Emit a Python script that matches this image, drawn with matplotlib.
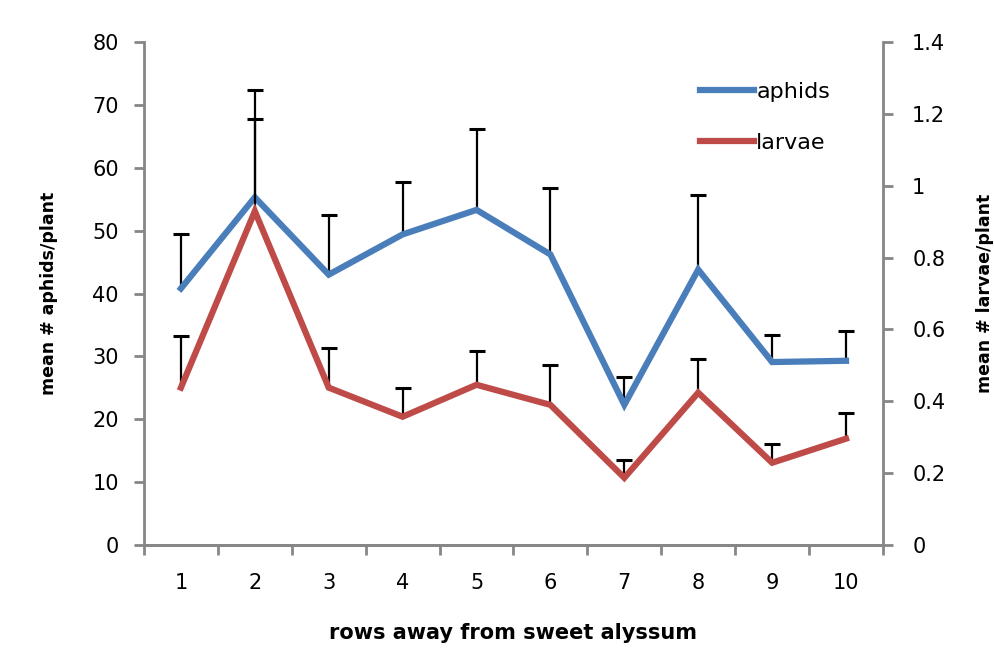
import numpy as np
import matplotlib.pyplot as plt
from matplotlib.ticker import MultipleLocator, FixedLocator, FuncFormatter

rows = [1, 2, 3, 4, 5, 6, 7, 8, 9, 10]
aphids = [40.8, 55.3, 43.0, 49.4, 53.3, 46.2, 22.3, 43.8, 29.1, 29.3]
aphids_err = [8.7, 17.0, 9.5, 8.4, 12.8, 10.6, 4.5, 11.8, 4.3, 4.8]
larvae = [0.438, 0.929, 0.438, 0.357, 0.446, 0.390, 0.187, 0.424, 0.229, 0.296]
larvae_err = [0.145, 0.258, 0.111, 0.081, 0.095, 0.112, 0.050, 0.095, 0.053, 0.072]

plt.rcParams['font.family'] = ['DejaVu Sans']
blue = '#4A7EBB'
red = '#BE4B48'
grey = '#868686'

fig = plt.figure(figsize=(9.95, 6.5), dpi=100)
ax = fig.add_axes([0.1447, 0.1615, 0.7427, 0.7739])
ax2 = ax.twinx()

x = np.arange(len(rows))

# upper-only error bars: stem + cap
a_top = np.array(aphids) + np.array(aphids_err)
ax.vlines(x, aphids, a_top, colors='black', lw=1.6, zorder=2)
ax.plot(x, a_top, ls='none', marker='_', ms=11, mew=2.2, color='black', zorder=2)
ax.plot(x, aphids, color=blue, lw=4.5, solid_joinstyle='miter', zorder=3, label='aphids')

l_top = np.array(larvae) + np.array(larvae_err)
ax2.vlines(x, larvae, l_top, colors='black', lw=1.6, zorder=2)
ax2.plot(x, l_top, ls='none', marker='_', ms=11, mew=2.2, color='black', zorder=2)
ax2.plot(x, larvae, color=red, lw=4.5, solid_joinstyle='miter', zorder=3, label='larvae')

ax.set_xlim(-0.5, len(rows) - 0.5)
ax.set_ylim(0, 80)
ax2.set_ylim(0, 1.4)
ax.yaxis.set_major_locator(MultipleLocator(10))
ax2.yaxis.set_major_locator(FixedLocator(np.arange(0, 1.41, 0.2)))
ax2.yaxis.set_major_formatter(FuncFormatter(lambda v, p: f'{v:g}' if abs(v) > 1e-9 else '0'))

ax.set_xticks(x)
ax.set_xticklabels([str(r) for r in rows])
ax.xaxis.set_minor_locator(FixedLocator(np.arange(-0.5, len(rows), 1.0)))
ax.tick_params(axis='x', which='major', length=0, pad=20, labelsize=15)
ax.tick_params(axis='x', which='minor', length=7, width=2, color=grey, direction='out')
ax.tick_params(axis='y', length=7, width=2, color=grey, labelsize=15, pad=11)
ax2.tick_params(axis='y', length=7, width=2, color=grey, labelsize=15, pad=14)

for a in (ax, ax2):
    a.spines['top'].set_visible(False)
    for s in ('left', 'right', 'bottom'):
        a.spines[s].set_color(grey)
        a.spines[s].set_linewidth(2)
ax.spines['right'].set_visible(False)
ax2.spines['left'].set_visible(False)

ax.set_xlabel('rows away from sweet alyssum', fontsize=15, fontweight='bold', labelpad=22)
ax.set_ylabel('mean # aphids/plant', fontsize=12.5, fontweight='bold', labelpad=25)
ax2.set_ylabel('mean # larvae/plant', fontsize=12.5, fontweight='bold', labelpad=22)

h1, l1 = ax.get_legend_handles_labels()
h2, l2 = ax2.get_legend_handles_labels()
fig.legend(h1 + h2, l1 + l2, loc='upper left', bbox_to_anchor=(0.683, 0.905),
           frameon=False, fontsize=16, handlelength=2.45, handletextpad=0.1,
           labelspacing=1.4, borderpad=0.4)

fig.savefig('out.png', dpi=100)
